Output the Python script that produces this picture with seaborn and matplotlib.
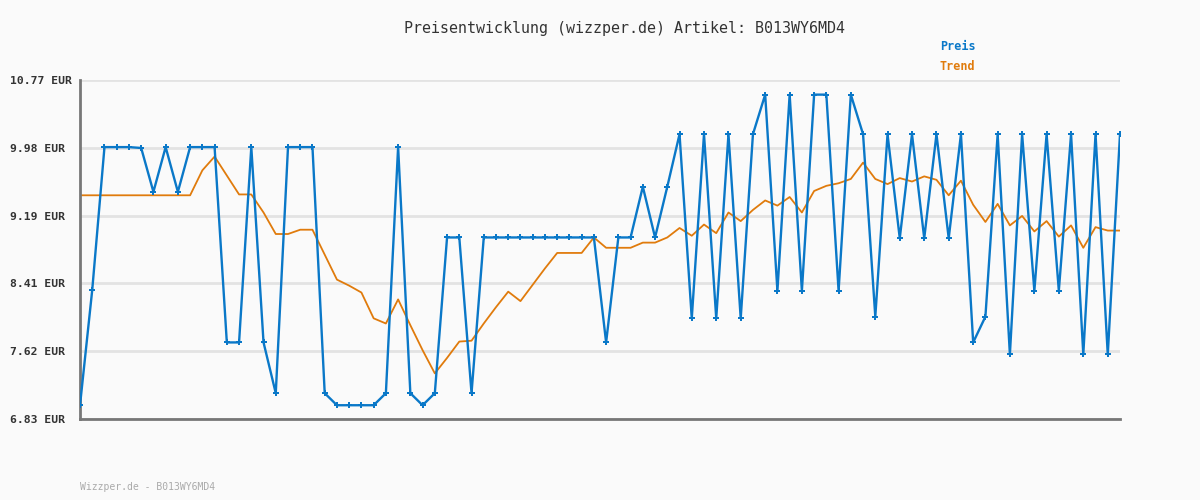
import matplotlib
matplotlib.use("Agg")
import matplotlib.pyplot as plt
import pandas as pd
import seaborn as sns

# price per observation (EUR)
preis = [
    6.99, 8.33, 9.99, 9.99, 9.99, 9.98, 9.47, 9.99, 9.47, 9.99,
    9.99, 9.99, 7.72, 7.72, 9.99, 7.72, 7.13, 9.99, 9.99, 9.99,
    7.13, 6.99, 6.99, 6.99, 6.99, 7.13, 9.99, 7.13, 6.99, 7.13,
    8.94, 8.94, 7.13, 8.94, 8.94, 8.94, 8.94, 8.94, 8.94, 8.94,
    8.94, 8.94, 8.94, 7.72, 8.94, 8.94, 9.53, 8.94, 9.53, 10.14,
    8.00, 10.14, 8.00, 10.14, 8.00, 10.14, 10.60, 8.32, 10.60, 8.32,
    10.60, 10.60, 8.32, 10.60, 10.14, 8.02, 10.14, 8.93, 10.14, 8.93,
    10.14, 8.93, 10.14, 7.72, 8.02, 10.14, 7.58, 10.14, 8.32, 10.14,
    8.32, 10.14, 7.58, 10.14, 7.58, 10.14,
]

trend = [
    9.43, 9.43, 9.43, 9.43, 9.43, 9.43, 9.43, 9.43, 9.43, 9.43,
    9.72, 9.88, 9.66, 9.44, 9.44, 9.23, 8.98, 8.98, 9.03, 9.03,
    8.74, 8.45, 8.38, 8.30, 8.00, 7.94, 8.22, 7.92, 7.63, 7.36,
    7.54, 7.73, 7.74, 7.94, 8.13, 8.31, 8.20, 8.39, 8.58, 8.76,
    8.76, 8.76, 8.94, 8.82, 8.82, 8.82, 8.88, 8.88, 8.94, 9.05,
    8.96, 9.09, 8.99, 9.23, 9.13, 9.26, 9.37, 9.31, 9.41, 9.23,
    9.48, 9.54, 9.57, 9.62, 9.81, 9.62, 9.56, 9.63, 9.59, 9.65,
    9.61, 9.43, 9.60, 9.32, 9.12, 9.33, 9.08, 9.19, 9.01, 9.13,
    8.95, 9.08, 8.82, 9.06, 9.02, 9.02,
]

y_ticks = [6.83, 7.62, 8.41, 9.19, 9.98, 10.77]
artikel = "B013WY6MD4"

blue = "#0a78c8"
orange = "#e07b0c"
bg = "#fafafa"

df = pd.DataFrame({"idx": range(len(preis)), "preis": preis, "trend": trend})

sns.set_theme(style="white")
plt.rcParams["font.family"] = ["DejaVu Sans Mono", "DejaVu Sans"]

fig = plt.figure(figsize=(12, 5), dpi=100, facecolor=bg)
ax = fig.add_axes([80 / 1200, 81 / 500, 1040 / 1200, 339 / 500])
ax.set_facecolor(bg)

for t in y_ticks:
    ax.axhline(t, color="#e3e3e3", lw=2, zorder=0)

sns.lineplot(data=df, x="idx", y="trend", ax=ax, color=orange, lw=1.3, zorder=2)
sns.lineplot(data=df, x="idx", y="preis", ax=ax, color=blue, lw=1.7,
             marker="P", markersize=4, markeredgewidth=0, zorder=3)

ax.set_xlim(0, len(preis) - 1)
ax.set_ylim(6.83, 10.77)
ax.set_xticks([])
ax.set_yticks(y_ticks)
ax.set_yticklabels([f"{t:.2f} EUR" for t in y_ticks], fontsize=8.2,
                   color="#333333", fontweight="bold", ha="left")
# labels left-aligned at x=10px: pad = 70px in points
ax.tick_params(axis="y", length=0, pad=70 * 0.72, left=False)
ax.set_xlabel("")
ax.set_ylabel("")

for s in ["top", "right"]:
    ax.spines[s].set_visible(False)
ax.spines["left"].set_color("#777777")
ax.spines["left"].set_linewidth(2)
ax.spines["bottom"].set_color("#777777")
ax.spines["bottom"].set_linewidth(2)

fig.text(624 / 1200, 1 - 28 / 500, f"Preisentwicklung (wizzper.de) Artikel: {artikel}",
         ha="center", va="center", fontsize=10.8, color="#333333")
fig.text(940 / 1200, 1 - 47 / 500, "Preis", ha="left", va="center",
         fontsize=8.5, color=blue, fontweight="bold")
fig.text(940 / 1200, 1 - 67 / 500, "Trend", ha="left", va="center",
         fontsize=8.5, color=orange, fontweight="bold")
fig.text(80 / 1200, 1 - 487 / 500, f"Wizzper.de - {artikel}", ha="left", va="center",
         fontsize=7, color="#aaaaaa")

plt.savefig("out.png", dpi=100, facecolor=bg)
plt.close()
